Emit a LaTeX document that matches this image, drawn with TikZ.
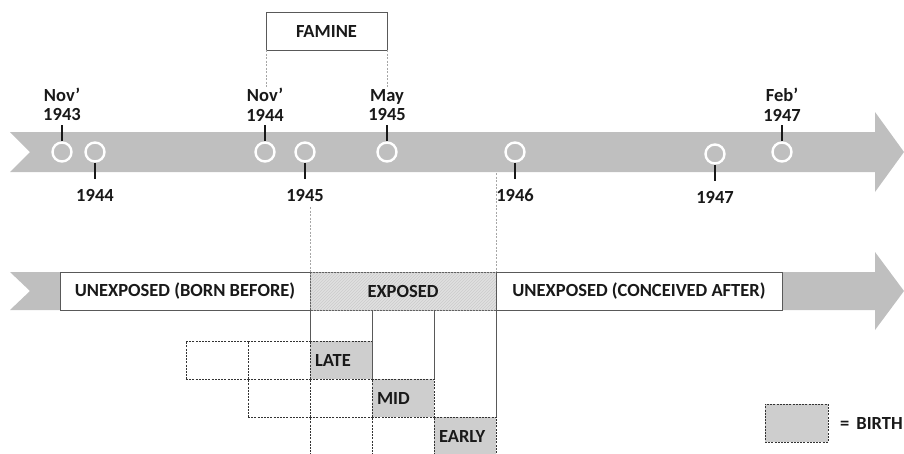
\documentclass[tikz,border=0pt]{standalone}
\usepackage{fontspec}
\setmainfont{Carlito}
\usepackage{tikz}
\usetikzlibrary{positioning, calc, patterns}
\definecolor{bandgray}{RGB}{191, 191, 191}
\definecolor{edgegray}{RGB}{89, 89, 89}
\definecolor{textdark}{RGB}{25, 25, 25}
\definecolor{hatchgray}{RGB}{224, 224, 224}
\definecolor{birthgray}{RGB}{206, 206, 206}

\begin{document}
\begin{tikzpicture}[x=1pt, y=-1pt,
						font=\fontsize{18.5}{19.5}\selectfont\bfseries,
						band/.style={fill=bandgray, draw=none},
						marker/.style={circle, draw=white, line width=2.4pt, fill=bandgray, minimum size=19pt, inner sep=0pt},
						lab/.style={align=center, inner sep=0pt, text=textdark},
						tick/.style={line width=1.6pt, draw=textdark},
						box/.style={draw=edgegray, line width=0.8pt, minimum height=38pt, inner sep=0pt, outer sep=0pt, text=textdark},
						guide/.style={draw=gray!70, dash pattern=on 2pt off 1.5pt, line width=0.5pt},
						cell/.style={draw=black!80, dash pattern=on 2pt off 1.2pt, line width=0.7pt, minimum width=62pt, minimum height=38pt, inner sep=0pt, outer sep=0pt, anchor=north west, fill=white},
						birth/.style={cell, fill=birthgray, text=textdark, text width=52pt, inner xsep=5pt, align=left},
						wall/.style={draw=edgegray, line width=0.8pt}
					]
					\useasboundingbox (0,0) rectangle (904,453);

					% Bands
					\fill[band] (10,132) -- (875,132) -- (875,112) -- (904,152) -- (875,192) -- (875,172) -- (10,172) -- (30,152) -- cycle;
					\fill[band] (10,272) -- (875,272) -- (875,252) -- (904,291) -- (875,330) -- (875,310) -- (10,310) -- (30,291) -- cycle;

					% Markers
					\node[marker] (nov43) at (62,152) {};
					\node[marker] (y44) at (95,152) {};
					\node[marker] (nov44) at (265,152) {};
					\node[marker] (y45) at (305,152) {};
					\node[marker] (may45) at (387,152) {};
					\node[marker] (y46) at (515,152) {};
					\node[marker] (y47) at (715,154) {};
					\node[marker] (feb47) at (782,152) {};

					% Labels above
					\node[lab, above=20pt of nov43] (lnov43) {Nov'\\1943};
					\node[lab, above=20pt of nov44] (lnov44) {Nov'\\1944};
					\node[lab, above=20pt of may45] (lmay45) {May\\1945};
					\node[lab, above=20pt of feb47] (lfeb47) {Feb'\\1947};

					% Labels below
					\node[lab, below=26pt of y44] (ly44) {1944};
					\node[lab, below=26pt of y45] (ly45) {1945};
					\node[lab, below=26pt of y46] (ly46) {1946};
					\node[lab, below=26pt of y47] (ly47) {1947};

					% Ticks
					\foreach \m in {nov43, nov44, may45, feb47}
						\draw[tick, shorten >=4pt] (\m.north) -- (l\m.south);
					\foreach \m in {y44, y45, y46, y47}
						\draw[tick, shorten >=10pt] (\m.south) -- (l\m.north);

					% Famine
					\node[box, minimum width=121pt] (famine) at (326.5,31) {FAMINE};
					\coordinate (famL) at (266,88);
					\coordinate (famR) at (387,88);
					\draw[guide] (famine.south west) -- (famL);
					\draw[guide] (famine.south east) -- (famR);

					% Periods
					\node[box, fill=white, minimum width=250pt] (before) at (185,291) {UNEXPOSED (BORN BEFORE)};
					\node[box, fill=hatchgray, minimum width=186pt, right=0pt of before,
						postaction={pattern=north east lines, pattern color=gray!40}] (exposed) {EXPOSED};
					\node[box, fill=white, minimum width=286pt, right=0pt of exposed] (after) {UNEXPOSED (CONCEIVED AFTER)};

					\coordinate (gl) at (310,207);
					\coordinate (gr) at (496,173);
					\draw[guide] (gl) -- (exposed.north west);
					\draw[guide] (gr) -- (exposed.north east);

					% Cells
					\node[cell] (a1) at (186,341) {};
					\node[cell, right=0pt of a1] (a2) {};
					\node[birth, right=0pt of a2] (late) {LATE};
					\node[cell, below=0pt of a2] (b1) {};
					\node[cell, right=0pt of b1] (b2) {};
					\node[birth, right=0pt of b2] (mid) {MID};
					\node[cell, below=0pt of b2] (c1) {};
					\node[cell, right=0pt of c1] (c2) {};
					\node[birth, right=0pt of c2] (early) {EARLY};

					% Walls
					\draw[wall] (exposed.south west) -- (late.north west);
					\draw[wall] (late.north east |- exposed.south) -- (mid.north west);
					\draw[wall] (mid.north east |- exposed.south) -- (mid.north east);
					\draw[wall] (exposed.south east) -- (early.north east);

					% Legend
					\node[birth, text width=0pt, inner xsep=0pt, minimum width=63pt, anchor=center] (key) at (796.5,423) {};
					\node[lab, right=12pt of key] (keytext) {=\hspace{7pt}BIRTH};
				\end{tikzpicture}
\end{document}
